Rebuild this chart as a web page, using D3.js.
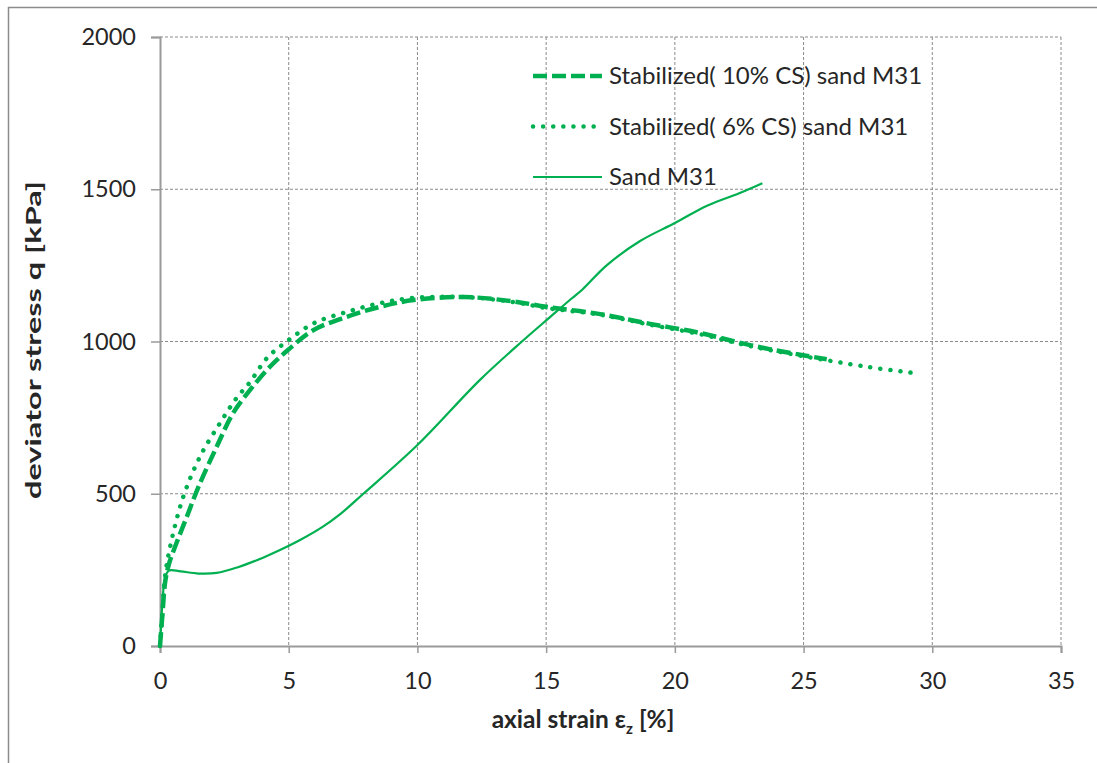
<!DOCTYPE html>
<html>
<head>
<meta charset="utf-8">
<title>Deviator stress vs axial strain</title>
<script src="https://d3js.org/d3.v7.min.js"></script>
<style>
body { margin: 0; background: #fff; }
text { font-family: Lato, "Open Sans", sans-serif; fill: #262626; }
</style>
</head>
<body>
<div id="chart"></div>
<script>

// axial strain [%] / deviator stress q [kPa]
var cs10Strain = [0, 0.1, 0.2, 0.35, 0.58, 1.04, 1.49, 2.2, 2.84, 3.5, 4.27, 4.97, 5.95, 7.25, 8.55, 9.85, 11.8, 13.7, 15.0, 17.1, 19.04, 20.98, 22.92, 24.98, 25.9];
var cs10Stress = [0, 110, 210, 270, 325, 424, 522, 654, 765, 841, 917, 972, 1037, 1081, 1114, 1136, 1146, 1132, 1114, 1090, 1058, 1028, 988, 955, 942];

var cs6Strain = [0, 0.1, 0.2, 0.39, 0.9, 1.55, 2.33, 2.98, 3.5, 4.15, 5.0, 6.0, 7.25, 8.55, 9.85, 11.8, 13.7, 15.0, 17.1, 19.04, 20.98, 22.92, 24.98, 27.46, 29.33];
var cs6Stress = [0, 120, 230, 325, 489, 621, 732, 815, 867, 945, 1005, 1061, 1097, 1126, 1143, 1146, 1130, 1110, 1088, 1055, 1024, 985, 952, 917, 896];

var sandStrain = [0, 0.05, 0.1, 0.2, 0.35, 0.8, 1.5, 2.2, 3.0, 4.0, 4.66, 5.44, 6.33, 7.0, 7.9, 10.0, 12.43, 14.06, 15.15, 16.0, 16.4, 17.35, 18.65, 20.0, 21.25, 22.5, 23.4];
var sandStress = [0, 80, 150, 225, 248, 245, 238, 240, 258, 290, 315, 348, 392, 433, 500, 660, 874, 1000, 1080, 1142, 1170, 1250, 1330, 1389, 1446, 1487, 1520];

var xTicks = [0, 5, 10, 15, 20, 25, 30, 35];
var yTicks = [0, 500, 1000, 1500, 2000];

var legendNames = ["Stabilized( 10% CS) sand M31", "Stabilized( 6% CS) sand M31", "Sand M31"];

var width = 1097, height = 763;
var green = "#00b050";

var svg = d3.select("#chart").append("svg")
	.attr("width", width).attr("height", height);

// frame (only left and top are visible in the original crop)
svg.append("path").attr("d", "M8.5,763V7.5H1097")
	.attr("fill", "none").attr("stroke", "#8c8c8c").attr("stroke-width", 1.5);

var x = d3.scaleLinear().domain([0, 35]).range([160, 1061]);
var y = d3.scaleLinear().domain([0, 2000]).range([646, 37]);

// grid
svg.append("g").selectAll("line").data(xTicks.slice(1)).enter().append("line")
	.attr("x1", d => x(d)).attr("x2", d => x(d))
	.attr("y1", y(2000)).attr("y2", y(0))
	.attr("stroke", "#8a8a8a").attr("stroke-dasharray", "3,2");
svg.append("g").selectAll("line").data(yTicks.slice(1)).enter().append("line")
	.attr("x1", x(0)).attr("x2", x(35))
	.attr("y1", d => y(d)).attr("y2", d => y(d))
	.attr("stroke", "#8a8a8a").attr("stroke-dasharray", "3,2");

// axes
var xAxis = svg.append("g").attr("transform", "translate(0," + y(0) + ")")
	.call(d3.axisBottom(x).tickValues(xTicks).tickSize(7).tickPadding(19).tickFormat(d3.format("d")));
var yAxis = svg.append("g").attr("transform", "translate(" + x(0) + ",0)")
	.call(d3.axisLeft(y).tickValues(yTicks).tickSize(9).tickPadding(15).tickFormat(d3.format("d")));
[xAxis, yAxis].forEach(function(a) {
	a.select(".domain").attr("stroke", "#9a9a9a").attr("stroke-width", 2);
	a.selectAll(".tick line").attr("stroke", "#9a9a9a").attr("stroke-width", 1.5);
	a.selectAll(".tick text").attr("font-size", 23.5).attr("font-family", "Lato").attr("fill", "#262626");
});

// axis titles
var xt = svg.append("text").attr("x", 583).attr("y", 728)
	.attr("text-anchor", "middle").attr("font-size", 24.5).attr("font-weight", "bold");
xt.append("tspan").text("axial strain ε");
xt.append("tspan").attr("font-size", 15).attr("dy", 6).text("z");
xt.append("tspan").attr("dy", -6).text(" [%]");

svg.append("text").attr("transform", "translate(41,340) rotate(-90)")
	.attr("text-anchor", "middle").attr("font-size", 20.5).attr("font-weight", "bold")
	.attr("textLength", 318).attr("lengthAdjust", "spacingAndGlyphs")
	.text("deviator stress q [kPa]");

// curves
var smooth = d3.line().x(d => x(d[0])).y(d => y(d[1])).curve(d3.curveCatmullRom);

var styles = [
	{ w: 4.5, dash: "14,5", cap: "butt" },
	{ w: 4.5, dash: "0.1,10", cap: "round" },
	{ w: 2.2, dash: null, cap: "butt" }
];

svg.append("path").datum(d3.zip(cs10Strain, cs10Stress))
	.attr("d", smooth).attr("fill", "none").attr("stroke", green)
	.attr("stroke-width", styles[0].w).attr("stroke-dasharray", styles[0].dash);
svg.append("path").datum(d3.zip(cs6Strain, cs6Stress))
	.attr("d", smooth).attr("fill", "none").attr("stroke", green)
	.attr("stroke-width", styles[1].w).attr("stroke-dasharray", styles[1].dash)
	.attr("stroke-linecap", "round");
svg.append("path").datum(d3.zip(sandStrain, sandStress))
	.attr("d", smooth).attr("fill", "none").attr("stroke", green)
	.attr("stroke-width", styles[2].w);

// legend
var lg = svg.append("g").selectAll("g").data(legendNames).enter().append("g")
	.attr("transform", (d, i) => "translate(533," + (76 + i * 50.5) + ")");
lg.append("line").attr("x1", 0).attr("x2", 69).attr("y1", 0).attr("y2", 0)
	.attr("stroke", green)
	.attr("stroke-width", (d, i) => styles[i].w)
	.attr("stroke-dasharray", (d, i) => styles[i].dash)
	.attr("stroke-linecap", (d, i) => styles[i].cap);
lg.append("text").attr("x", 76).attr("y", 8).attr("font-size", 24).text(d => d);

</script>
</body>
</html>
